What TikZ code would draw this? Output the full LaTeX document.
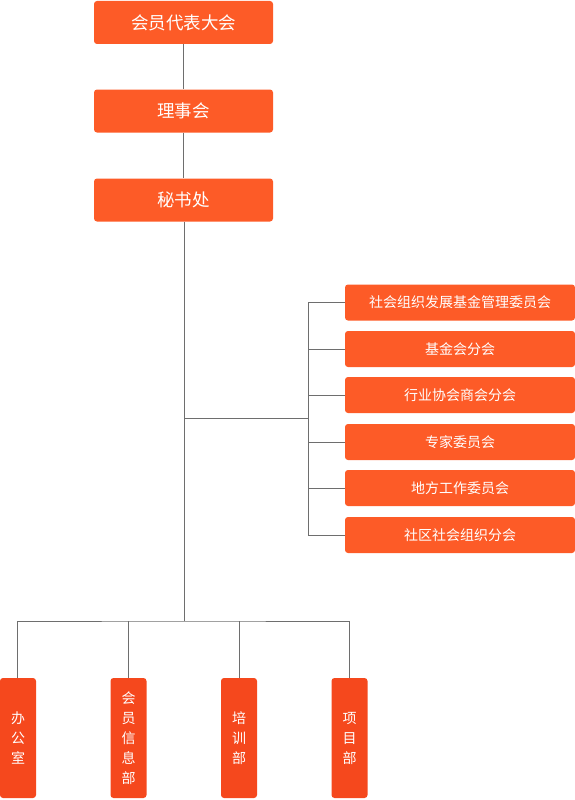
\documentclass[tikz,border=0pt]{standalone}
\usepackage{fontspec}
\newfontfamily\cjk{Noto Sans CJK SC}
\usetikzlibrary{positioning}
\definecolor{orgorange}{HTML}{FD5B27}
\definecolor{orgred}{HTML}{F5481D}
\definecolor{orgline}{HTML}{6E6E6E}

\begin{document}
\begin{tikzpicture}[
  x=1pt, y=-1pt,
  topbox/.style={
    rectangle, rounded corners=3pt, draw=none, fill=orgorange,
    minimum width=179pt, minimum height=43pt, inner sep=0pt,
    font=\cjk\fontsize{17.5}{19}\selectfont, text=white
  },
  sidebox/.style={
    rectangle, rounded corners=3pt, draw=none, fill=orgorange,
    minimum width=230pt, minimum height=36pt, inner sep=0pt,
    font=\cjk\fontsize{14}{16}\selectfont, text=white
  },
  deptbox/.style={
    rectangle, rounded corners=3pt, draw=none, fill=orgred,
    minimum width=36pt, minimum height=120pt, inner sep=0pt,
    font=\cjk\fontsize{14}{20}\selectfont, text=white, align=center
  },
  link/.style={draw=orgline, line width=0.9pt}
]
  \useasboundingbox (0,0) rectangle (575,800);

  % Main chain
  \node[topbox] (congress) at (183.5,22.5) {会员代表大会};
  \node[topbox] (council) at (183.5,111) {理事会};
  \node[topbox] (secretariat) at (183.5,200) {秘书处};

  % Branches on the right
  \node[sidebox] (mgmt) at (460,302.5) {社会组织发展基金管理委员会};
  \node[sidebox] (fund) at (460,349) {基金会分会};
  \node[sidebox] (trade) at (460,395) {行业协会商会分会};
  \node[sidebox] (expert) at (460,442) {专家委员会};
  \node[sidebox] (local) at (460,488) {地方工作委员会};
  \node[sidebox] (community) at (460,535) {社区社会组织分会};

  % Departments below
  \node[deptbox] (office) at (18,738) {办\\公\\室};
  \node[deptbox] (member) at (128.5,738) {会\\员\\信\\息\\部};
  \node[deptbox] (training) at (239,738) {培\\训\\部};
  \node[deptbox] (project) at (349.5,738) {项\\目\\部};

  \coordinate (hub) at (184,418);
  \coordinate (rail) at (308,418);
  \coordinate (split) at (184,621);

  % Connectors
  \draw[link] (congress) -- (council);
  \draw[link] (council) -- (secretariat);
  \draw[link] (secretariat.south -| hub) -- (split);
  \draw[link] (hub) -- (rail);
  \draw[link] (mgmt.west -| rail) -- (community.west -| rail);
  \foreach \b in {mgmt, fund, trade, expert, local, community}
    \draw[link] (\b.west) -- (\b.west -| rail);

  \draw[link] (office.north -| 17,0) |- (split) -| (project.north);
  \draw[link] (member.north) -- (member.north |- split);
  \draw[link] (training.north) -- (training.north |- split);
\end{tikzpicture}
\end{document}
